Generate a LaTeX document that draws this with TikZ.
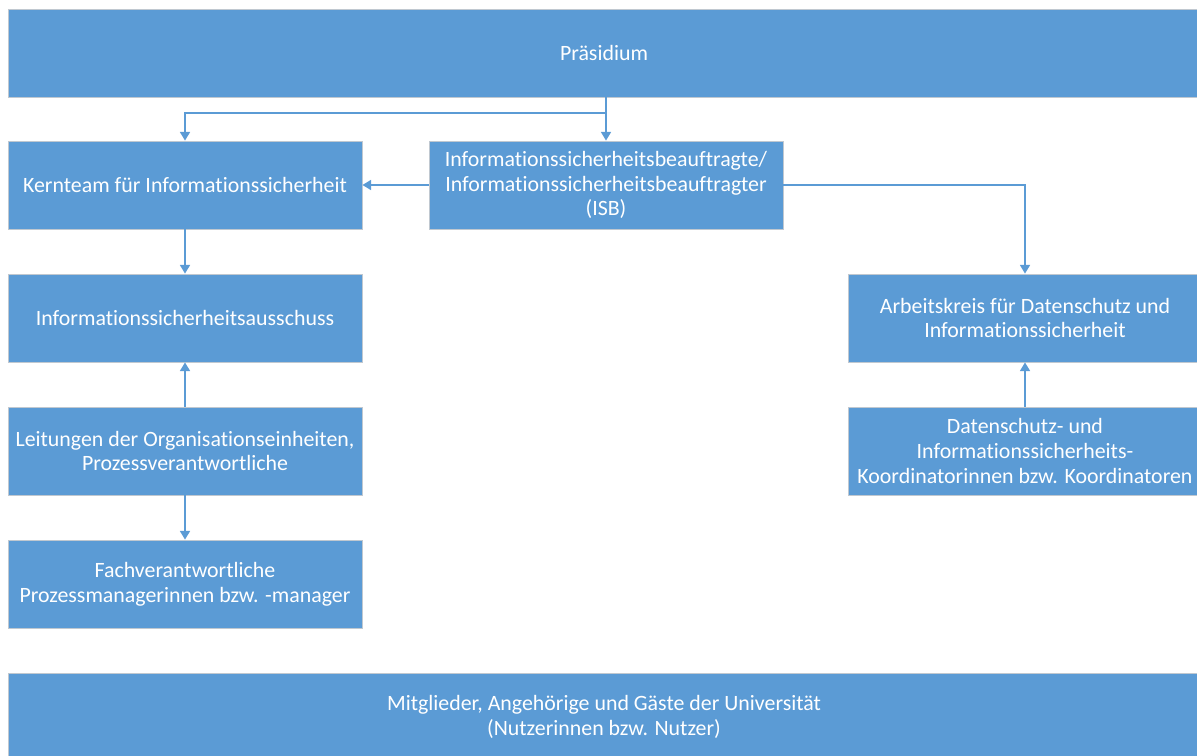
\documentclass[tikz,border=0pt]{standalone}
\usepackage{fontspec}
\setmainfont{Carlito}[Ligatures={NoCommon}]
\usepackage{xcolor}
\usetikzlibrary{positioning,calc,arrows.meta}

\definecolor{boxblue}{HTML}{5B9BD5}
\definecolor{boxrand}{HTML}{C0C8D0}

\tikzset{
  box/.style={rectangle, fill=boxblue, draw=boxrand, line width=0.6pt,
    text=white, align=center, minimum width=265.5pt, minimum height=66pt,
    inner sep=2pt, font=\fontsize{16.4}{18.5}\selectfont},
  widebox/.style={box, minimum width=894pt},
  conn/.style={draw=boxblue, line width=1.1pt,
    -{Triangle[width=7.5pt,length=6.5pt]}},
  plain/.style={draw=boxblue, line width=1.1pt}
}

\begin{document}
\begin{tikzpicture}[x=0.75pt,y=-0.75pt]
\useasboundingbox (0,0) rectangle (1197,756);
\clip (0,0) rectangle (1197,756);

% Kaesten
\node[widebox] (praes) at (604,53) {Präsidium};
\node[box] (kern) at (185,185) {Kernteam für Informationssicherheit};
\node[box] (isb) at (606,185) {Informationssicherheitsbeauftragte/\\Informationssicherheitsbeauftragter\\(ISB)};
\node[box] (auss) at (185,318) {Informationssicherheitsausschuss};
\node[box] (ak) at (1025,318) {Arbeitskreis für Datenschutz und\\Informationssicherheit};
\node[box] (leit) at (185,451) {Leitungen der Organisationseinheiten,\\Prozessverantwortliche};
\node[box] (dsk) at (1025,451) {Datenschutz- und\\Informationssicherheits-\\Koordinatorinnen bzw. Koordinatoren};
\node[box] (fach) at (185,584) {Fachverantwortliche\\Prozessmanagerinnen bzw. -manager};
\node[widebox] (mitgl) at (604,717) {Mitglieder, Angehörige und Gäste der Universität\\(Nutzerinnen bzw. Nutzer)};

% Verbindungen
\coordinate (knick) at (606,113);
\draw[plain] (isb.north |- praes.south) -- (knick);
\draw[conn] (knick) -- (isb.north);
\draw[conn] (knick) -| (kern.north);
\draw[conn] (isb.west) -- (kern.east);
\draw[conn] (isb.east) -| (ak.north);
\draw[conn] (kern.south) -- (auss.north);
\draw[conn] (leit.north) -- (auss.south);
\draw[conn] (leit.south) -- (fach.north);
\draw[conn] (dsk.north) -- (ak.south);
\end{tikzpicture}
\end{document}
